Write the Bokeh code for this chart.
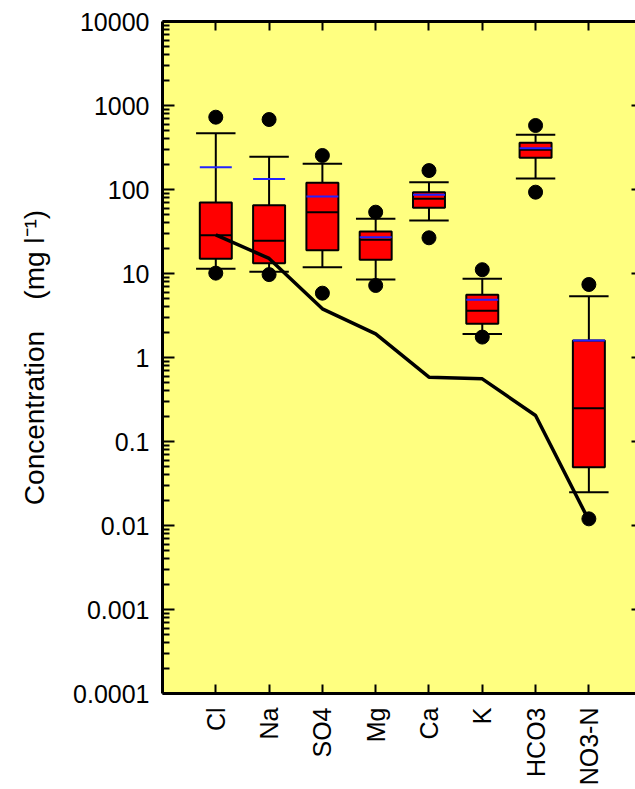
import math
from bokeh.plotting import figure
from bokeh.models import FixedTicker, LinearAxis, LogAxis, Range1d, ColumnDataSource
from bokeh.embed import file_html
from bokeh.resources import INLINE

# ---- data ----
categories = ["Cl", "Na", "SO4", "Mg", "Ca", "K", "HCO3", "NO3-N"]
upper_outlier = [726, 681, 254, 53.7, 168, 11.1, 578, 7.4]
upper_whisker = [468, 245, 202, 44.8, 122, 8.65, 448, 5.37]
q3 = [70, 65, 120, 31.6, 92.9, 5.58, 359, 1.59]
mean = [184, 133, 82.5, 27.1, 86.5, 4.87, 310, 1.59]
median = [28.6, 24.5, 53.7, 25.2, 77.5, 3.6, 297, 0.249]
q1 = [15.0, 13.2, 18.9, 14.6, 60.6, 2.52, 238, 0.0494]
lower_whisker = [11.4, 10.5, 11.9, 8.49, 42.8, 1.91, 135, 0.0249]
lower_outlier = [10.1, 9.7, 5.83, 7.2, 26.6, 1.75, 92.9, 0.0120]
reference_line = [28.9, 15.1, 3.8, 1.91, 0.583, 0.557, 0.204, 0.0115]
y_tick_values = [0.0001, 0.001, 0.01, 0.1, 1, 10, 100, 1000, 10000]
y_tick_labels = ["0.0001", "0.001", "0.01", "0.1", "1", "10", "100", "1000", "10000"]

positions = list(range(1, len(categories) + 1))
box_w = 0.6
cap_w = 0.74

FONT = "Liberation Sans"

src = ColumnDataSource(dict(
    x=positions,
    x_box_l=[x - box_w / 2 for x in positions],
    x_box_r=[x + box_w / 2 for x in positions],
    x_cap_l=[x - cap_w / 2 for x in positions],
    x_cap_r=[x + cap_w / 2 for x in positions],
    uo=upper_outlier, uw=upper_whisker, q3=q3, mean=mean, med=median,
    q1=q1, lw=lower_whisker, lo=lower_outlier,
))

p = figure(width=635, height=789, y_axis_type="log",
           x_range=Range1d(0, 8.875), y_range=Range1d(1e-4, 1e4),
           output_backend="svg", toolbar_location=None,
           min_border_left=162, min_border_right=0, min_border_top=21, min_border_bottom=96,
           background_fill_color="#FFFF80", border_fill_color="white",
           outline_line_color=None)
p.grid.visible = False

minor = [k * d for d in y_tick_values[:-1] for k in range(2, 10)]

# left axis
ya = p.yaxis[0]
ya.ticker = FixedTicker(ticks=y_tick_values, minor_ticks=minor)
ya.major_label_overrides = {v: s for v, s in zip(y_tick_values, y_tick_labels)}
ya.major_tick_in = 12
ya.major_tick_out = 0
ya.minor_tick_in = 7
ya.minor_tick_out = 0
ya.major_tick_line_width = 2
ya.minor_tick_line_width = 2
ya.axis_line_width = 3
ya.major_label_standoff = 13
ya.major_label_text_font = FONT
ya.major_label_text_font_size = "25px"
ya.major_label_text_color = "black"
ya.axis_label = "Concentration\u00a0\u00a0\u00a0\u00a0(mg l\u207b\u00b9)"
ya.axis_label_text_font = FONT
ya.axis_label_text_font_size = "28px"
ya.axis_label_text_font_style = "normal"
ya.axis_label_text_color = "black"
ya.axis_label_standoff = 20

# bottom axis
xa = p.xaxis[0]
xa.ticker = FixedTicker(ticks=positions)
xa.major_label_overrides = {x: c for x, c in zip(positions, categories)}
xa.major_label_orientation = math.pi / 2
xa.major_tick_in = 9
xa.major_tick_out = 0
xa.minor_tick_in = 0
xa.minor_tick_out = 0
xa.major_tick_line_width = 2
xa.axis_line_width = 3
xa.major_label_standoff = 14
xa.major_label_text_font = FONT
xa.major_label_text_font_size = "25px"
xa.major_label_text_color = "black"

# top axis (ticks only)
ta = LinearAxis(ticker=FixedTicker(ticks=positions),
                major_label_overrides={x: "" for x in positions},
                major_tick_in=9, major_tick_out=0, minor_tick_in=0, minor_tick_out=0,
                major_tick_line_width=2, axis_line_width=3, major_label_standoff=0)
p.add_layout(ta, "above")

# right axis (ticks only, frame edge cut)
ra = LogAxis(ticker=FixedTicker(ticks=y_tick_values, minor_ticks=[]),
             major_label_overrides={v: "" for v in y_tick_values},
             major_tick_in=4, major_tick_out=0, minor_tick_in=0, minor_tick_out=0,
             major_tick_line_width=2, axis_line_color=None, major_label_standoff=0)
p.add_layout(ra, "right")

# whisker stems
p.segment(x0="x", y0="q3", x1="x", y1="uw", source=src, line_color="black", line_width=2)
p.segment(x0="x", y0="q1", x1="x", y1="lw", source=src, line_color="black", line_width=2)
# caps
p.segment(x0="x_cap_l", y0="uw", x1="x_cap_r", y1="uw", source=src, line_color="black", line_width=2)
p.segment(x0="x_cap_l", y0="lw", x1="x_cap_r", y1="lw", source=src, line_color="black", line_width=2)
# boxes
p.vbar(x="x", width=box_w, bottom="q1", top="q3", source=src,
       fill_color="#FF0000", line_color="black", line_width=2)
# median and mean
p.segment(x0="x_box_l", y0="med", x1="x_box_r", y1="med", source=src, line_color="black", line_width=2)
p.segment(x0="x_box_l", y0="mean", x1="x_box_r", y1="mean", source=src, line_color="#2222FF", line_width=2)

# reference line
p.line(positions, reference_line, line_color="black", line_width=3.5)

# outliers
p.scatter(x="x", y="uo", source=src, size=14, fill_color="black", line_color="black")
p.scatter(x="x", y="lo", source=src, size=14, fill_color="black", line_color="black")

open("out.html", "w").write(file_html(p, INLINE))
